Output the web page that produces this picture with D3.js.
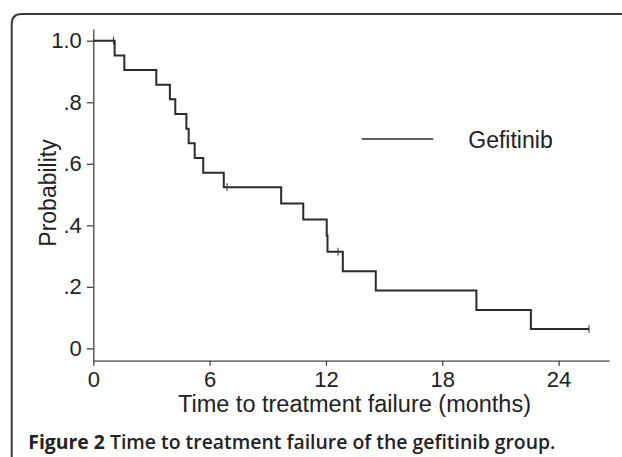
<!DOCTYPE html>
<html>
<head>
<meta charset="utf-8">
<script src="https://cdn.jsdelivr.net/npm/d3@7"></script>
<style>
  html, body { margin: 0; padding: 0; background: #fff; }
  svg { display: block; }
  .axis text { font-family: "Liberation Sans", Arial, sans-serif; fill: #222; }
  .axis path, .axis line { stroke: #444; stroke-width: 1.3; }
</style>
</head>
<body>
<svg></svg>
<script>
// event times (months) and survival level after each event
const eventTimes = [1.1, 1.6, 3.25, 3.95, 4.23, 4.8, 4.92, 5.23, 5.67, 6.73, 9.69, 10.83, 12.04, 12.08, 12.87, 14.57, 19.76, 22.57];
const survival   = [0.952, 0.905, 0.857, 0.810, 0.762, 0.714, 0.667, 0.619, 0.571, 0.524, 0.471, 0.419, 0.367, 0.314, 0.251, 0.188, 0.125, 0.063];
// censored observations
const censorTimes = [1.04, 6.9, 12.62, 25.57];
const censorProb  = [1.0, 0.524, 0.314, 0.063];
const lastTime = 25.57;

const xTicks = [0, 6, 12, 18, 24];
const yTicks = [0, 0.2, 0.4, 0.6, 0.8, 1.0];
const yTickLabels = ['0', '.2', '.4', '.6', '.8', '1.0'];

const svg = d3.select('svg').attr('width', 622).attr('height', 457);

// frame with rounded corner
svg.append('path')
  .attr('d', 'M11.7,470 L11.7,24 Q11.7,14 21.7,14 L640,14')
  .attr('fill', 'none')
  .attr('stroke', '#3a3a3a')
  .attr('stroke-width', 2);

const x = d3.scaleLinear().domain([0, 26.6]).range([93.3, 609]);
const y = d3.scaleLinear().domain([-0.04, 1.038]).range([360.7, 29]);

const xAxis = svg.append('g')
  .attr('class', 'axis')
  .attr('transform', 'translate(0,360.7)')
  .call(d3.axisBottom(x).tickValues(xTicks).tickSize(5).tickSizeOuter(0).tickPadding(6));
xAxis.selectAll('text').attr('font-size', 22);

const yAxis = svg.append('g')
  .attr('class', 'axis')
  .attr('transform', 'translate(93.3,0)')
  .call(d3.axisLeft(y).tickValues(yTicks).tickSize(6.5).tickSizeOuter(0).tickPadding(5)
    .tickFormat((d, i) => yTickLabels[i]));
yAxis.selectAll('text').attr('font-size', 22);

// Kaplan-Meier step curve
const pts = [[0, 1]].concat(eventTimes.map((t, i) => [t, survival[i]]));
pts.push([lastTime, survival[survival.length - 1]]);

const line = d3.line()
  .x(d => x(d[0]))
  .y(d => y(d[1]))
  .curve(d3.curveStepAfter);

svg.append('path')
  .datum(pts)
  .attr('d', line)
  .attr('fill', 'none')
  .attr('stroke', '#2b2b2b')
  .attr('stroke-width', 2);

// censor marks
svg.selectAll('line.censor').data(censorTimes)
  .enter().append('line')
  .attr('class', 'censor')
  .attr('x1', d => x(d))
  .attr('x2', d => x(d))
  .attr('y1', (d, i) => y(censorProb[i]) - 4)
  .attr('y2', (d, i) => y(censorProb[i]) + 4)
  .attr('stroke', '#333')
  .attr('stroke-width', 1);

// legend
svg.append('line')
  .attr('x1', 361.7).attr('x2', 433.3)
  .attr('y1', 139).attr('y2', 139)
  .attr('stroke', '#2b2b2b').attr('stroke-width', 1.5);
svg.append('text')
  .attr('x', 468.3).attr('y', 147.5)
  .attr('font-family', '"Liberation Sans", Arial, sans-serif')
  .attr('font-size', 23)
  .attr('fill', '#222')
  .text('Gefitinib');

// axis titles
svg.append('text')
  .attr('x', 354.5).attr('y', 412)
  .attr('text-anchor', 'middle')
  .attr('font-family', '"Liberation Sans", Arial, sans-serif')
  .attr('font-size', 23.5)
  .attr('fill', '#222')
  .text('Time to treatment failure (months)');

svg.append('text')
  .attr('transform', 'translate(56,193) rotate(-90)')
  .attr('text-anchor', 'middle')
  .attr('font-family', '"Liberation Sans", Arial, sans-serif')
  .attr('font-size', 23)
  .attr('fill', '#222')
  .text('Probability');

// caption
const cap = svg.append('text')
  .attr('x', 28.3).attr('y', 448.5)
  .attr('font-family', '"Open Sans", "Noto Sans", sans-serif')
  .attr('font-size', 19.4)
  .attr('fill', '#222');
cap.append('tspan').attr('font-weight', 700).text('Figure 2');
cap.append('tspan').attr('font-weight', 600).text(' Time to treatment failure of the gefitinib group.');
</script>
</body>
</html>
